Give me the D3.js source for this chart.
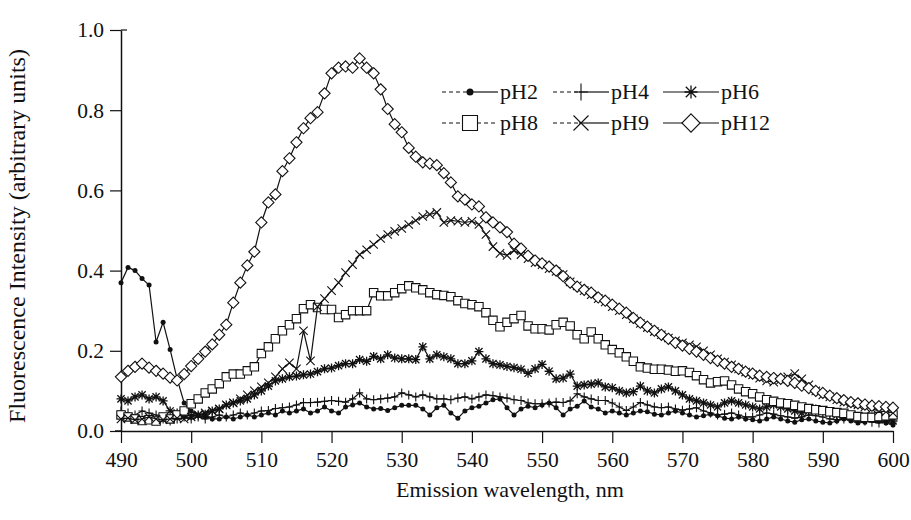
<!DOCTYPE html>
<html><head><meta charset="utf-8">
<script src="https://cdn.jsdelivr.net/npm/d3@7"></script>
<style>
body{margin:0;background:#fff}
text{font-family:"Liberation Serif","Times New Roman",serif;fill:#111}
</style>
</head><body><svg id="c" width="911" height="520"></svg>
<script>
const wavelengths = d3.range(490, 601);
const xTicks = [490,500,510,520,530,540,550,560,570,580,590,600];
const yTicks = [0,0.2,0.4,0.6,0.8,1.0];
const seriesNames = ["pH2","pH4","pH6","pH8","pH9","pH12"];

const pH2 = [
0.370,0.408,0.400,0.380,0.364,0.222,0.271,0.203,0.130,0.070,
0.050,0.040,0.035,0.030,0.030,0.035,0.030,0.035,0.040,0.035,
0.040,0.045,0.040,0.050,0.045,0.050,0.055,0.045,0.050,0.060,
0.050,0.045,0.060,0.065,0.070,0.060,0.055,0.056,0.051,0.058,
0.064,0.064,0.064,0.055,0.040,0.058,0.064,0.045,0.032,0.050,
0.058,0.062,0.070,0.078,0.080,0.058,0.040,0.055,0.062,0.058,
0.065,0.070,0.058,0.040,0.055,0.062,0.075,0.060,0.055,0.045,
0.050,0.045,0.040,0.045,0.050,0.048,0.042,0.040,0.045,0.050,
0.045,0.040,0.035,0.038,0.042,0.038,0.032,0.030,0.035,0.030,
0.028,0.025,0.030,0.035,0.030,0.025,0.022,0.028,0.030,0.025,
0.022,0.020,0.025,0.030,0.025,0.020,0.022,0.028,0.025,0.020,
0.015];
const pH4 = [
0.050,0.045,0.040,0.050,0.045,0.040,0.030,0.025,0.030,0.035,
0.030,0.035,0.030,0.035,0.040,0.035,0.040,0.045,0.040,0.045,
0.050,0.051,0.056,0.058,0.060,0.065,0.071,0.071,0.072,0.074,
0.076,0.074,0.072,0.080,0.095,0.080,0.078,0.080,0.082,0.085,
0.095,0.090,0.085,0.090,0.085,0.080,0.080,0.078,0.082,0.085,
0.080,0.085,0.090,0.088,0.085,0.082,0.078,0.076,0.070,0.068,
0.068,0.070,0.072,0.071,0.075,0.093,0.085,0.080,0.076,0.076,
0.070,0.060,0.051,0.060,0.071,0.065,0.060,0.058,0.060,0.055,
0.052,0.055,0.058,0.050,0.045,0.040,0.042,0.045,0.040,0.035,
0.035,0.040,0.045,0.042,0.038,0.035,0.032,0.035,0.040,0.038,
0.035,0.030,0.028,0.030,0.032,0.028,0.025,0.022,0.020,0.025,
0.020];
const pH6 = [
0.080,0.075,0.085,0.090,0.080,0.085,0.075,0.050,0.045,0.040,
0.038,0.040,0.042,0.050,0.055,0.065,0.070,0.075,0.080,0.090,
0.100,0.112,0.125,0.130,0.135,0.137,0.140,0.142,0.148,0.155,
0.157,0.163,0.168,0.168,0.178,0.174,0.186,0.180,0.190,0.182,
0.180,0.180,0.178,0.210,0.180,0.190,0.185,0.180,0.168,0.168,
0.175,0.198,0.180,0.168,0.165,0.161,0.158,0.154,0.144,0.155,
0.166,0.149,0.130,0.132,0.142,0.112,0.115,0.117,0.120,0.110,
0.108,0.100,0.095,0.098,0.112,0.100,0.095,0.105,0.110,0.100,
0.090,0.080,0.075,0.070,0.065,0.060,0.070,0.075,0.070,0.065,
0.060,0.055,0.060,0.065,0.060,0.055,0.050,0.045,0.050,0.055,
0.050,0.045,0.040,0.038,0.035,0.030,0.032,0.035,0.030,0.028,
0.025];
const pH8 = [
0.040,0.035,0.030,0.026,0.028,0.025,0.035,0.030,0.040,0.050,
0.068,0.080,0.095,0.105,0.118,0.135,0.142,0.142,0.150,0.160,
0.193,0.210,0.230,0.250,0.265,0.280,0.305,0.315,0.308,0.303,
0.303,0.283,0.290,0.300,0.300,0.300,0.345,0.337,0.337,0.345,
0.355,0.362,0.357,0.352,0.345,0.340,0.338,0.335,0.325,0.318,
0.315,0.310,0.295,0.276,0.260,0.271,0.280,0.288,0.262,0.255,
0.255,0.252,0.265,0.271,0.262,0.240,0.230,0.247,0.230,0.215,
0.203,0.195,0.185,0.174,0.160,0.157,0.154,0.154,0.152,0.149,
0.150,0.146,0.138,0.128,0.120,0.123,0.125,0.115,0.105,0.098,
0.093,0.085,0.078,0.074,0.070,0.068,0.064,0.060,0.056,0.053,
0.051,0.048,0.046,0.044,0.040,0.036,0.034,0.034,0.036,0.038,
0.040];
const pH9 = [
0.030,0.032,0.028,0.030,0.035,0.030,0.028,0.030,0.032,0.030,
0.035,0.040,0.045,0.050,0.055,0.065,0.070,0.080,0.090,0.100,
0.110,0.120,0.135,0.155,0.170,0.155,0.250,0.175,0.310,0.330,
0.350,0.370,0.395,0.415,0.440,0.452,0.465,0.480,0.490,0.498,
0.505,0.515,0.525,0.535,0.540,0.545,0.520,0.525,0.523,0.520,
0.523,0.515,0.490,0.460,0.443,0.438,0.450,0.440,0.430,0.420,
0.415,0.405,0.398,0.390,0.372,0.362,0.350,0.340,0.330,0.322,
0.310,0.300,0.290,0.280,0.268,0.258,0.248,0.240,0.232,0.225,
0.220,0.215,0.210,0.200,0.190,0.180,0.172,0.165,0.155,0.147,
0.140,0.132,0.125,0.122,0.128,0.135,0.143,0.130,0.115,0.100,
0.090,0.085,0.078,0.072,0.068,0.065,0.060,0.055,0.050,0.048,
0.045];
const pH12 = [
0.135,0.150,0.160,0.168,0.158,0.150,0.143,0.133,0.126,0.142,
0.162,0.180,0.198,0.216,0.240,0.265,0.320,0.370,0.413,0.447,
0.520,0.570,0.590,0.648,0.680,0.720,0.755,0.780,0.795,0.842,
0.892,0.906,0.909,0.906,0.929,0.906,0.892,0.852,0.803,0.765,
0.745,0.706,0.684,0.670,0.667,0.663,0.643,0.620,0.585,0.577,
0.565,0.560,0.533,0.520,0.508,0.496,0.467,0.455,0.437,0.425,
0.418,0.410,0.400,0.386,0.370,0.360,0.352,0.345,0.333,0.325,
0.315,0.305,0.295,0.282,0.270,0.260,0.250,0.240,0.230,0.220,
0.213,0.205,0.198,0.190,0.182,0.175,0.168,0.160,0.155,0.148,
0.143,0.138,0.135,0.132,0.130,0.125,0.120,0.113,0.107,0.100,
0.095,0.088,0.082,0.077,0.072,0.069,0.066,0.063,0.062,0.060,
0.058];

const seriesData = [pH2,pH4,pH6,pH8,pH9,pH12];
const markerTypes = ["dot","plus","star","square","x","diamond"];

const svg = d3.select("#c");
const x = d3.scaleLinear().domain([490,600]).range([121,893]);
const y = d3.scaleLinear().domain([0,1]).range([431,30]);
const ink = "#111";

// axes
const xAxis = svg.append("g").attr("transform","translate(0,431)")
  .call(d3.axisBottom(x).tickValues(xTicks).tickSize(12).tickSizeOuter(0).tickPadding(9).tickFormat(d3.format("d")));
const yAxis = svg.append("g").attr("transform","translate(121,0)")
  .call(d3.axisLeft(y).tickValues(yTicks).tickSize(11).tickSizeOuter(0).tickPadding(6).tickFormat(d3.format(".1f")));
[xAxis,yAxis].forEach(a=>{
  a.attr("font-family",null).attr("font-size",null);
  a.selectAll("text").style("font-size","21.5px").attr("fill",ink);
  a.selectAll("line").attr("stroke",ink).attr("stroke-width",1.2);
  a.select(".domain").attr("stroke",ink).attr("stroke-width",1.5);
});
svg.append("line").attr("x1",115).attr("x2",121).attr("y1",431).attr("y2",431).attr("stroke",ink).attr("stroke-width",1.5);
svg.append("line").attr("x1",121).attr("x2",127).attr("y1",y(1)).attr("y2",y(1)).attr("stroke",ink).attr("stroke-width",1.2);

function marker(g, type, s){
  const p = g.append("path").attr("stroke",ink).attr("stroke-width",1.1);
  if(type==="dot"){ g.selectAll("path").remove(); g.append("circle").attr("r",s*0.5).attr("fill",ink); }
  else if(type==="plus"){ p.attr("d",`M0,${-s}V${s}M${-s*0.8},0H${s*0.8}`).attr("fill","none"); }
  else if(type==="star"){ const d=s*0.8; p.attr("d",`M0,${-s}V${s}M${-s},0H${s}M${-d},${-d}L${d},${d}M${-d},${d}L${d},${-d}`).attr("fill","none").attr("stroke-width",1.3); }
  else if(type==="square"){ p.attr("d",`M${-s},${-s}H${s}V${s}H${-s}Z`).attr("fill","#fff"); }
  else if(type==="x"){ p.attr("d",`M${-s},${-s}L${s},${s}M${-s},${s}L${s},${-s}`).attr("fill","none"); }
  else if(type==="diamond"){ const r=s*1.3; p.attr("d",`M0,${-r}L${r},0L0,${r}L${-r},0Z`).attr("fill","#fff"); }
}
const plotSize = {dot:5, plus:4.5, star:4.5, square:4.2, x:4.2, diamond:4.3};

const line = d3.line().x((d,i)=>x(wavelengths[i])).y(d=>y(d));
seriesData.forEach((vals,k)=>{
  const g = svg.append("g");
  g.append("path").datum(vals).attr("d",line).attr("fill","none").attr("stroke",ink).attr("stroke-width",1.2);
  vals.forEach((v,i)=>{
    const m = g.append("g").attr("transform",`translate(${x(wavelengths[i])},${y(v)})`);
    marker(m, markerTypes[k], plotSize[markerTypes[k]]);
  });
});

// legend
const legendPos = [[442,92],[553,92],[663,92],[442,123],[553,123],[663,123]];
const legendStyle = ["dashsolid","dashsolid","solid","dash","dashsolid","solid"];
const legendSize = {dot:7, plus:8.5, star:6.5, square:7.5, x:7.5, diamond:7};
seriesNames.forEach((name,k)=>{
  const [lx,ly] = legendPos[k];
  const g = svg.append("g").attr("transform",`translate(${lx},${ly})`);
  const st = legendStyle[k];
  if(st==="solid"){
    g.append("line").attr("x1",0).attr("x2",56).attr("stroke",ink).attr("stroke-width",1.2);
  } else if(st==="dash"){
    g.append("line").attr("x1",0).attr("x2",56).attr("stroke",ink).attr("stroke-width",1.2).attr("stroke-dasharray","4,3");
  } else {
    g.append("line").attr("x1",0).attr("x2",26).attr("stroke",ink).attr("stroke-width",1.2).attr("stroke-dasharray","4,3");
    g.append("line").attr("x1",26).attr("x2",56).attr("stroke",ink).attr("stroke-width",1.2);
  }
  const m = g.append("g").attr("transform","translate(28,0)");
  marker(m, markerTypes[k], legendSize[markerTypes[k]]);
  g.append("text").attr("x",58).attr("y",7).style("font-size","22px").text(name);
});

// axis titles
svg.append("text").attr("transform","translate(25,236) rotate(-90)").attr("text-anchor","middle")
  .style("font-size","24px").text("Fluorescence Intensity (arbitrary units)");
svg.append("text").attr("x",510).attr("y",497).attr("text-anchor","middle")
  .style("font-size","22px").text("Emission wavelength, nm");
</script>
</body></html>
